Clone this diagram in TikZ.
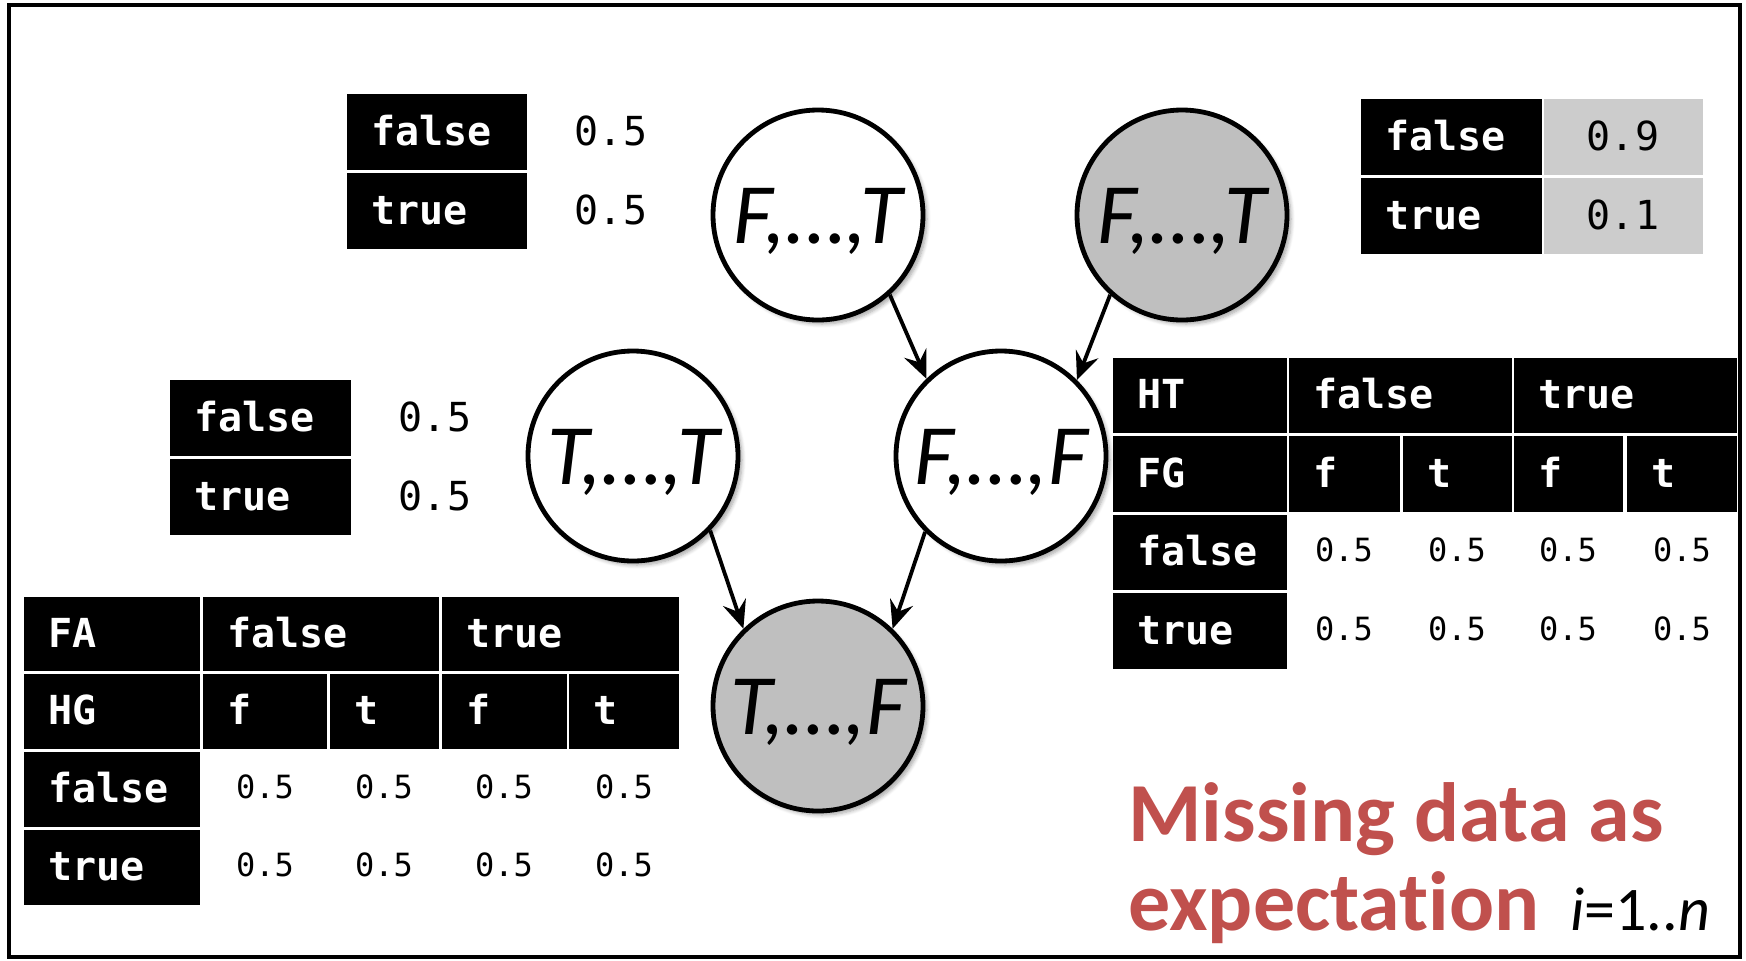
\documentclass[tikz,border=0pt]{standalone}
\usepackage{fontspec}
\setmainfont{Carlito}[Ligatures=NoCommon]
\setmonofont{DejaVu Sans Mono}
\usepackage{tikz}
\usetikzlibrary{arrows.meta}
\usetikzlibrary{shadows.blur}

\definecolor{obsgray}{RGB}{191,191,191}
\definecolor{cellgray}{RGB}{204,204,204}
\definecolor{emred}{RGB}{192,80,77}

\newcommand{\labfont}{\fontsize{20}{24}\selectfont\ttfamily\bfseries}
\newcommand{\valfont}{\fontsize{20}{24}\selectfont\ttfamily}
\newcommand{\cptfont}{\fontsize{16}{19}\selectfont\ttfamily}

\tikzset{
  var/.style={circle,draw,line width=2.4pt,minimum size=105pt,inner sep=0pt,fill=white,
    font=\fontsize{43}{50}\selectfont\itshape,text height=28pt,text depth=0pt,
    blur shadow={shadow xshift=2pt,shadow yshift=-2pt,shadow blur steps=6,shadow opacity=35}},
  obs/.style={var,fill=obsgray},
  edge/.style={line width=1.9pt,-{Stealth[length=14pt,width=12pt,inset=5pt]}},
  lab/.style={anchor=west,inner sep=0pt,text=white,font=\labfont,text height=13pt,text depth=0pt},
  val/.style={inner sep=0pt,font=\valfont,text height=13pt,text depth=0pt},
  cval/.style={inner sep=0pt,font=\cptfont,text height=9pt,text depth=0pt}
}

\begin{document}
\begin{tikzpicture}[x=0.5pt,y=-0.5pt]
\useasboundingbox (0,0) rectangle (1746,960);
\draw[line width=2pt] (9,5) rectangle (1740,957);

%network
\node[var] (ft1) at (818,215) {F,…,T};
\node[obs] (ft2) at (1182,215) {F,…,T};
\node[var] (tt) at (633,456) {T,…,T};
\node[var] (ff) at (1001,456) {F,…,F};
\node[obs] (tf) at (818,706) {T,…,F};

\draw[edge] (ft1.-48) -- (ff.134);
\draw[edge] (ft2.228) -- (ff.45);
\draw[edge] (tt.-44) -- (tf.134);
\draw[edge] (ff.225) -- (tf.46);

%prior ft1
\fill (347,94) rectangle (527,170);
\fill (347,173) rectangle (527,249);
\node[lab] (ft1f) at (371,132) {false};
\node[lab] (ft1t) at (371,211) {true};
\node[val] (ft1fv) at (611,132) {0.5};
\node[val] (ft1tv) at (611,211) {0.5};

%prior ft2
\fill (1361,99) rectangle (1542,175);
\fill (1361,178) rectangle (1542,254);
\fill[cellgray] (1544,99) rectangle (1703,175);
\fill[cellgray] (1544,178) rectangle (1703,254);
\node[lab] (ft2f) at (1385,137) {false};
\node[lab] (ft2t) at (1385,216) {true};
\node[val] (ft2fv) at (1623,137) {0.9};
\node[val] (ft2tv) at (1623,216) {0.1};

%prior tt
\fill (170,380) rectangle (351,456);
\fill (170,459) rectangle (351,535);
\node[lab] (ttf) at (194,418) {false};
\node[lab] (ttt) at (194,497) {true};
\node[val] (ttfv) at (435,418) {0.5};
\node[val] (tttv) at (435,497) {0.5};

%cpt ff
\fill (1113,358) rectangle (1287,433);
\fill (1289,358) rectangle (1512,433);
\fill (1514,358) rectangle (1737,433);
\fill (1113,436) rectangle (1287,512);
\fill (1289,436) rectangle (1400,512);
\fill (1403,436) rectangle (1512,512);
\fill (1514,436) rectangle (1623,512);
\fill (1627,436) rectangle (1737,512);
\fill (1113,515) rectangle (1287,590);
\fill (1113,593) rectangle (1287,669);
\node[lab] (ffht) at (1137,395) {HT};
\node[lab] (ffhtf) at (1313,395) {false};
\node[lab] (ffhtt) at (1538,395) {true};
\node[lab] (fffg) at (1137,474) {FG};
\node[lab] (fffg1) at (1313,474) {f};
\node[lab] (fffg2) at (1427,474) {t};
\node[lab] (fffg3) at (1538,474) {f};
\node[lab] (fffg4) at (1651,474) {t};
\node[lab] (fff) at (1137,552) {false};
\node[lab] (fft) at (1137,631) {true};
\node[cval] (fff1) at (1344,552) {0.5};
\node[cval] (fff2) at (1457,552) {0.5};
\node[cval] (fff3) at (1568,552) {0.5};
\node[cval] (fff4) at (1682,552) {0.5};
\node[cval] (fft1) at (1344,631) {0.5};
\node[cval] (fft2) at (1457,631) {0.5};
\node[cval] (fft3) at (1568,631) {0.5};
\node[cval] (fft4) at (1682,631) {0.5};

%cpt tf
\fill (24,597) rectangle (200,671);
\fill (203,597) rectangle (439,671);
\fill (442,597) rectangle (679,671);
\fill (24,674) rectangle (200,749);
\fill (203,674) rectangle (327,749);
\fill (330,674) rectangle (439,749);
\fill (442,674) rectangle (567,749);
\fill (569,674) rectangle (679,749);
\fill (24,752) rectangle (200,827);
\fill (24,830) rectangle (200,905);
\node[lab] (tffa) at (48,634) {FA};
\node[lab] (tffaf) at (227,634) {false};
\node[lab] (tffat) at (466,634) {true};
\node[lab] (tfhg) at (48,711) {HG};
\node[lab] (tfhg1) at (227,711) {f};
\node[lab] (tfhg2) at (354,711) {t};
\node[lab] (tfhg3) at (466,711) {f};
\node[lab] (tfhg4) at (593,711) {t};
\node[lab] (tff) at (48,789) {false};
\node[lab] (tft) at (48,867) {true};
\node[cval] (tff1) at (265,789) {0.5};
\node[cval] (tff2) at (384,789) {0.5};
\node[cval] (tff3) at (504,789) {0.5};
\node[cval] (tff4) at (624,789) {0.5};
\node[cval] (tft1) at (265,867) {0.5};
\node[cval] (tft2) at (384,867) {0.5};
\node[cval] (tft3) at (504,867) {0.5};
\node[cval] (tft4) at (624,867) {0.5};

%caption
\node[anchor=base west,inner sep=0pt,text=emred,font=\fontsize{42}{50}\selectfont\bfseries] (miss1) at (1128,841) {Missing data as};
\node[anchor=base west,inner sep=0pt,text=emred,font=\fontsize{42}{50}\selectfont\bfseries] (miss2) at (1128,930) {expectation};
\node[anchor=base west,inner sep=0pt,font=\fontsize{31}{37}\selectfont] (idx) at (1570,930) {\textit{i}=1..\textit{n}};
\end{tikzpicture}
\end{document}
